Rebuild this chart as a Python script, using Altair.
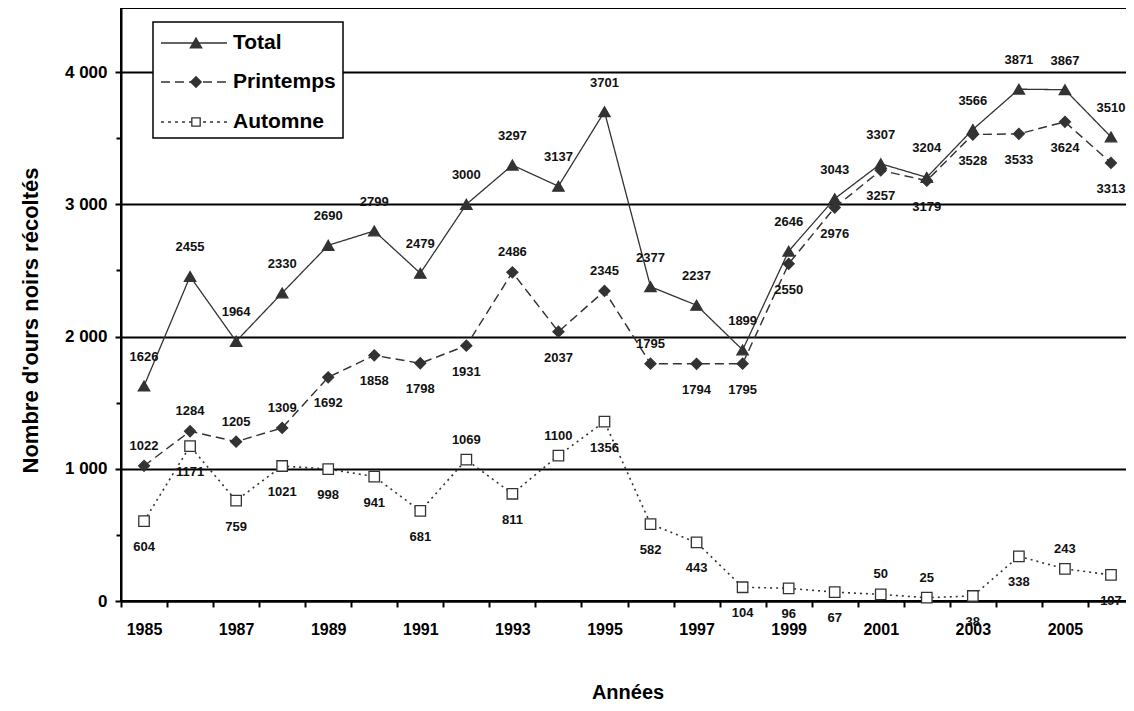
import altair as alt
import pandas as pd

# ---- data ----
annees = list(range(1985, 2007))
total = [1626, 2455, 1964, 2330, 2690, 2799, 2479, 3000, 3297, 3137, 3701,
         2377, 2237, 1899, 2646, 3043, 3307, 3204, 3566, 3871, 3867, 3510]
printemps = [1022, 1284, 1205, 1309, 1692, 1858, 1798, 1931, 2486, 2037, 2345,
             1795, 1794, 1795, 2550, 2976, 3257, 3179, 3528, 3533, 3624, 3313]
automne = [604, 1171, 759, 1021, 998, 941, 681, 1069, 811, 1100, 1356,
           582, 443, 104, 96, 67, 50, 25, 38, 338, 243, 197]
series = ["Total", "Printemps", "Automne"]
y_ticks = [0, 1000, 2000, 3000, 4000]
y_minor = [500, 1500, 2500, 3500]

# side of each data label (presentation only)
cote_total = ["haut"] * 22
cote_printemps = ["haut", "haut", "haut", "haut", "bas", "bas", "bas", "bas",
                  "haut", "bas", "haut", "haut", "bas", "bas"] + ["bas"] * 8
cote_automne = ["bas"] * 7 + ["haut", "bas", "haut"] + ["bas"] * 6 + \
               ["haut", "haut", "bas", "bas", "haut", "bas"]

rows = []
for s, vals, cotes in [("Total", total, cote_total),
                       ("Printemps", printemps, cote_printemps),
                       ("Automne", automne, cote_automne)]:
    for a, v, c in zip(annees, vals, cotes):
        rows.append({"annee": a, "serie": s, "valeur": v, "cote": c})
df = pd.DataFrame(rows)

FONT = "Liberation Sans"
INK = "#333333"

x_scale = alt.Scale(type="band", paddingInner=0, paddingOuter=0)
x_enc = alt.X(
    "annee:O",
    bandPosition=0.5,
    scale=x_scale,
    axis=alt.Axis(
        tickBand="extent", labelAngle=0, labelOverlap=False,
        labelExpr="datum.value % 2 == 1 ? datum.label : ''",
        labelFont=FONT, labelFontSize=16, labelFontWeight="bold", labelColor="black",
        labelPadding=14, tickSize=6, tickWidth=2, tickColor="black",
        domainColor="black", domainWidth=2, grid=False,
        titleFont=FONT, titleFontSize=20, titleFontWeight="bold", titleColor="black",
        titlePadding=45,
    ),
    title="Années",
)
y_scale = alt.Scale(domain=[0, 4485], nice=False, zero=True)
y_enc = alt.Y(
    "valeur:Q",
    scale=y_scale,
    axis=alt.Axis(
        values=y_ticks,
        labelExpr="replace(format(datum.value, ','), ',', ' ')",
        labelFont=FONT, labelFontSize=17, labelFontWeight="bold", labelColor="black",
        labelPadding=8, tickSize=6, tickWidth=2, tickColor="black",
        domainColor="black", domainWidth=2,
        grid=True, gridColor="black", gridWidth=2,
        titleFont=FONT, titleFontSize=22, titleFontWeight="bold", titleColor="black",
        titlePadding=22, titleY=312,
    ),
    title="Nombre d'ours noirs récoltés",
)
y_plain = alt.Y("valeur:Q", scale=y_scale, axis=None)

dash_scale = alt.Scale(domain=series, range=[[1, 0], [9, 5], [2, 4]])
shape_scale = alt.Scale(domain=series, range=["triangle-up", "diamond", "square"])
fill_scale = alt.Scale(domain=series, range=[INK, INK, "white"])
size_scale = alt.Scale(domain=series, range=[130, 110, 70])
width_scale = alt.Scale(domain=series, range=[1.3, 1.6, 1.4])

base = alt.Chart(df)

lines = base.mark_line(color=INK).encode(
    x=x_enc, y=y_enc,
    strokeDash=alt.StrokeDash("serie:N", scale=dash_scale, legend=None),
    strokeWidth=alt.StrokeWidth("serie:N", scale=width_scale, legend=None),
)

points = base.mark_point(filled=True, stroke=INK, strokeWidth=1.3, opacity=1, fillOpacity=1).encode(
    x=x_enc, y=y_plain,
    shape=alt.Shape("serie:N", scale=shape_scale, legend=None),
    fill=alt.Fill("serie:N", scale=fill_scale, legend=None),
    size=alt.Size("serie:N", scale=size_scale, legend=None),
)

txt = dict(font=FONT, fontSize=13, fontWeight="bold", color="#111111")
lab_total = base.transform_filter(alt.datum.serie == "Total").mark_text(dy=-29, **txt).encode(
    x=x_enc, y=y_plain, text=alt.Text("valeur:Q", format="d"))
lab_haut = base.transform_filter(
    (alt.datum.serie != "Total") & (alt.datum.cote == "haut")
).mark_text(dy=-20, **txt).encode(x=x_enc, y=y_plain, text=alt.Text("valeur:Q", format="d"))
lab_bas = base.transform_filter(alt.datum.cote == "bas").mark_text(dy=26, **txt).encode(
    x=x_enc, y=y_plain, text=alt.Text("valeur:Q", format="d"))

# minor ticks on the value axis
minor = alt.Chart(pd.DataFrame({"m": y_minor})).mark_point(opacity=0).encode(
    y=alt.Y("m:Q", scale=y_scale, title="",
            axis=alt.Axis(orient="left", values=y_minor, labels=False, domain=False,
                          grid=False, ticks=True, tickSize=5, tickWidth=2, tickColor="black"))
)

# legend box drawn by hand
leg_df = pd.DataFrame({"serie": series})
box = alt.Chart(leg_df.head(1)).mark_rect(fill="white", stroke="black", strokeWidth=1.5).encode(
    x=alt.value(32), x2=alt.value(222), y=alt.value(14), y2=alt.value(130))
leg_layers = [box]
leg_y = [35, 74, 114]
leg_dash = [[1, 0], [9, 5], [3, 4]]
leg_shape = ["triangle-up", "diamond", "square"]
leg_fill = [INK, INK, "white"]
leg_size = [130, 110, 70]
for i, s in enumerate(series):
    one = alt.Chart(leg_df[leg_df.serie == s])
    leg_layers.append(one.mark_rule(color=INK, strokeWidth=1.4, strokeDash=leg_dash[i]).encode(
        x=alt.value(40), x2=alt.value(106), y=alt.value(leg_y[i])))
    leg_layers.append(one.mark_point(shape=leg_shape[i], fill=leg_fill[i], stroke=INK, strokeWidth=1.3,
                                     size=leg_size[i], opacity=1, fillOpacity=1).encode(
        x=alt.value(75), y=alt.value(leg_y[i])))
    leg_layers.append(one.mark_text(align="left", baseline="middle", font=FONT, fontSize=21,
                                    fontWeight="bold", color="black").encode(
        x=alt.value(112), y=alt.value(leg_y[i]), text="serie:N"))

chart = alt.layer(
    lines, points, lab_total, lab_haut, lab_bas, minor, *leg_layers
).resolve_axis(y="independent").properties(
    width=1013, height=593,
    padding={"left": 113, "top": 0, "right": -8, "bottom": 102},
    autosize=alt.AutoSizeParams(type="none"),
).configure(font=FONT).configure_view(stroke="black", strokeWidth=2)

chart.save("out.html", embed_options={"renderer": "svg", "actions": False})
